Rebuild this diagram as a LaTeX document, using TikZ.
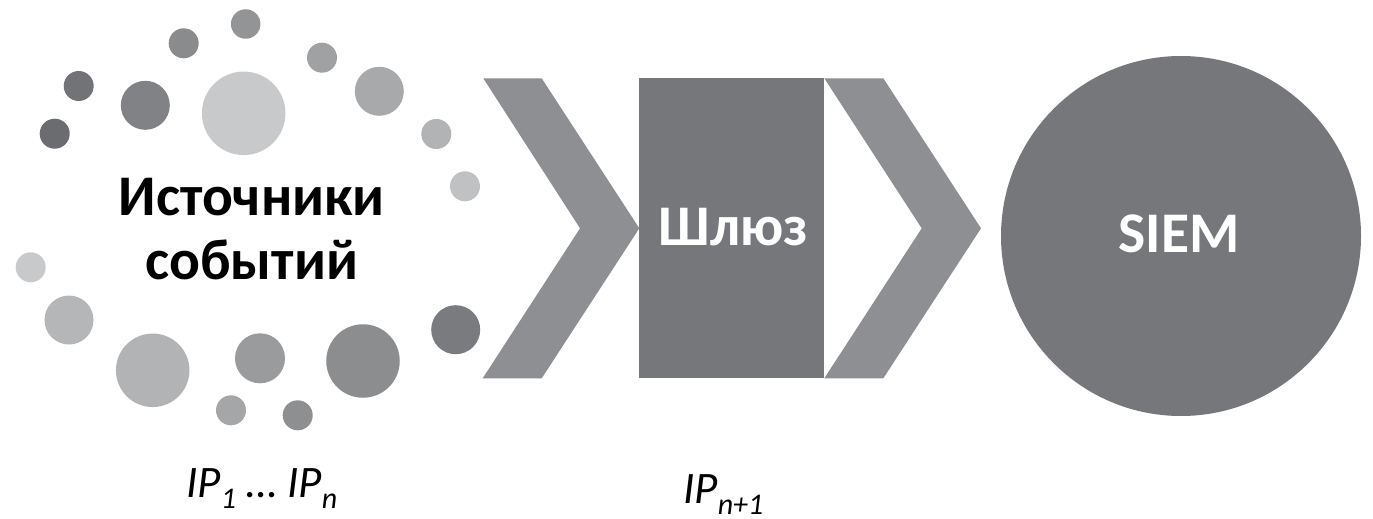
\documentclass[tikz,border=0pt]{standalone}
\usepackage{fontspec}
\setmainfont{Carlito}
\newcommand{\ipsub}[2]{\raisebox{#1}{\fontsize{30}{30}\selectfont #2}}
\begin{document}
\begin{tikzpicture}[x=1pt,y=-1pt,
  dot/.style={circle,inner sep=0pt,minimum size=#1},
  big/.style={font=\bfseries\fontsize{57.5}{64}\selectfont,inner sep=0pt},
  iplabel/.style={font=\itshape\fontsize{45}{50}\selectfont,inner sep=0pt,anchor=base west},
  chev/.style={fill=chevgray},
]
\definecolor{chevgray}{HTML}{8E8F92}
\definecolor{boxgray}{HTML}{76777B}
\useasboundingbox (0,0) rectangle (1373,519);

% scattered event sources
\definecolor{c1}{HTML}{939496}\definecolor{c2}{HTML}{8A8B8D}
\definecolor{c3}{HTML}{A0A1A3}\definecolor{c4}{HTML}{727377}
\definecolor{c5}{HTML}{818285}\definecolor{c6}{HTML}{C8C9CB}
\definecolor{c7}{HTML}{A8A9AB}\definecolor{c8}{HTML}{6B6C70}
\definecolor{c9}{HTML}{B2B3B5}\definecolor{c10}{HTML}{C0C1C3}
\definecolor{c11}{HTML}{C8C9CB}\definecolor{c12}{HTML}{B5B6B8}
\definecolor{c13}{HTML}{7A7B7F}\definecolor{c14}{HTML}{B2B3B5}
\definecolor{c15}{HTML}{9A9B9D}\definecolor{c16}{HTML}{8C8D8F}
\definecolor{c17}{HTML}{A5A6A8}\definecolor{c18}{HTML}{8E8F91}
\node[dot=29.5pt,fill=c1]  (d1)  at (245.7,24) {};
\node[dot=30pt,fill=c2]    (d2)  at (183.7,43.3) {};
\node[dot=30pt,fill=c3]    (d3)  at (322,57.7) {};
\node[dot=30pt,fill=c4]    (d4)  at (78.7,86) {};
\node[dot=49pt,fill=c5]    (d5)  at (145.3,105.3) {};
\node[dot=83.5pt,fill=c6]  (d6)  at (243.7,113.3) {};
\node[dot=49pt,fill=c7]    (d7)  at (379.3,91.3) {};
\node[dot=30pt,fill=c8]    (d8)  at (54.7,133.7) {};
\node[dot=30pt,fill=c9]    (d9)  at (436.3,134) {};
\node[dot=30pt,fill=c10]   (d10) at (465,186.3) {};
\node[dot=30pt,fill=c11]   (d11) at (30.7,267.3) {};
\node[dot=49pt,fill=c12]   (d12) at (69,320) {};
\node[dot=49pt,fill=c13]   (d13) at (455.7,329.7) {};
\node[dot=73.5pt,fill=c14] (d14) at (152.7,370.3) {};
\node[dot=50pt,fill=c15]   (d15) at (260,358.3) {};
\node[dot=73.5pt,fill=c16] (d16) at (363,361) {};
\node[dot=30pt,fill=c17]   (d17) at (231,410.3) {};
\node[dot=30pt,fill=c18]   (d18) at (297.7,415.3) {};

\node[big,anchor=base] (src1) at (251.7,215) {Источники};
\node[big,anchor=base] (src2) at (251.7,279) {событий};

% flow: chevron, gateway, chevron, SIEM
\fill[chev] (483.3,78.3) -- (541.7,78.3) -- (639.3,228.3) -- (541.7,378.3)
  -- (482.7,378.3) -- (580,228.3) -- cycle;
\node[fill=boxgray,inner sep=0pt,minimum width=185pt,minimum height=300.6pt] (gw) at (731.7,228) {};
\node[big,text=white,anchor=base] (gwtxt) at (733.3,245) {Шлюз};
\fill[chev] (824.3,78.3) -- (883.3,78.3) -- (981,228.3) -- (883.3,378.3)
  -- (824.3,378.3) -- (921.7,228.3) -- cycle;
\node[circle,fill=boxgray,inner sep=0pt,minimum size=360pt] (siem) at (1181,236) {};
\node[big,text=white,anchor=base] (siemtxt) at (1179,252.3) {SIEM};

% addresses
\node[iplabel] (ipsrc) at (186,497) {IP\ipsub{-11pt}{1} … IP\ipsub{-11pt}{n}};
\node[iplabel] (ipgw) at (683,503) {IP\ipsub{-11pt}{n+1}};
\end{tikzpicture}
\end{document}
